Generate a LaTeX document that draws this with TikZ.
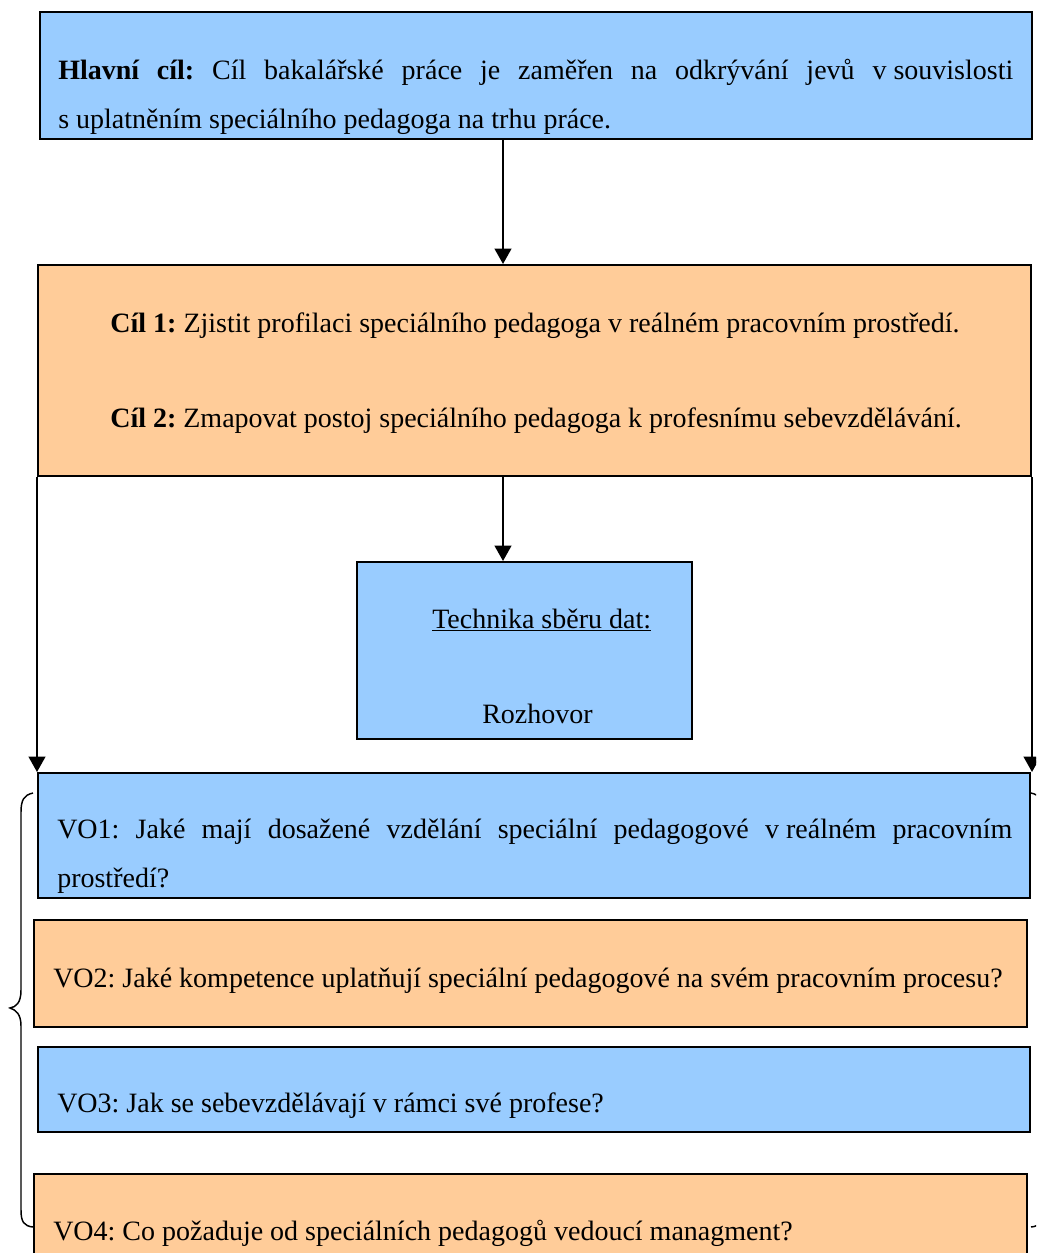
\documentclass[tikz,border=0pt]{standalone}
\usepackage{fontspec}
\setmainfont{Liberation Serif}
\usetikzlibrary{arrows.meta,fit}
\definecolor{boxblue}{RGB}{153,204,255}
\definecolor{boxorange}{RGB}{255,204,153}
\begin{document}
\frenchspacing
\begin{tikzpicture}[x=0.75pt,y=-0.75pt,
  bluebox/.style={draw=black, line width=1.5pt, fill=boxblue, inner sep=0pt, fit={#1}},
  orangebox/.style={draw=black, line width=1.5pt, fill=boxorange, inner sep=0pt, fit={#1}},
  txt/.style={inner sep=0pt, font=\fontsize{21}{25}\selectfont\frenchspacing},
  arr/.style={line width=1.5pt, -{Triangle[width=12.5pt,length=11.5pt]}},
  brace/.style={line width=1.1pt}
]
\useasboundingbox (0,0) rectangle (1036,1253);
\clip (0,0) rectangle (1036,1253);

% boxes
\node[bluebox={(40,12) (1032,139)}] (top) {};
\node[orangebox={(38,265) (1031,476)}] (goals) {};
\node[bluebox={(357,562) (692,739)}] (tech) {};
\node[bluebox={(38,773) (1030,898)}] (vo1) {};
\node[orangebox={(34,920) (1027,1027)}] (vo2) {};
\node[bluebox={(38,1047) (1030,1132)}] (vo3) {};
\node[orangebox={(34,1174) (1027,1290)}] (vo4) {};

% texts
\node[txt, anchor=base west] (t1) at (58,79) {\makebox[716.25pt][s]{\textbf{Hlavní cíl:} Cíl bakalářské práce je zaměřen na odkrývání jevů \mbox{v souvislosti}}};
\node[txt, anchor=base west] (t2) at (58,128) {s uplatněním speciálního pedagoga na trhu práce.};

\node[txt, anchor=base] (g1) at (535,332) {\textbf{Cíl 1:} Zjistit profilaci speciálního pedagoga v reálném pracovním prostředí.};
\node[txt, anchor=base] (g2) at (536,427) {\textbf{Cíl 2:} Zmapovat postoj speciálního pedagoga k profesnímu sebevzdělávání.};

\node[txt, anchor=base west] (h1) at (432,628) {\underline{Technika sběru dat:}};
\node[txt, anchor=base west] (h2) at (482,723) {Rozhovor};

\node[txt, anchor=base west] (v1a) at (57,838) {\makebox[716.25pt][s]{VO1: Jaké mají dosažené vzdělání speciální pedagogové \mbox{v reálném} pracovním}};
\node[txt, anchor=base west] (v1b) at (57,887) {prostředí?};
\node[txt, anchor=base west] (v2) at (53,987) {VO2: Jaké kompetence uplatňují speciální pedagogové na svém pracovním procesu?};
\node[txt, anchor=base west] (v3) at (57,1112) {VO3: Jak se sebevzdělávají v rámci své profese?};
\node[txt, anchor=base west] (v4) at (53,1240) {VO4: Co požaduje od speciálních pedagogů vedoucí managment?};

% connectors
\coordinate (ax) at (503,0);
\draw[arr] (top.south -| ax) -- (goals.north -| ax);
\draw[arr] (goals.south -| ax) -- (tech.north -| ax);
\draw[arr] (goals.south west) -- (vo1.north west);
\draw[arr] (goals.south east) -- (vo1.north east -| goals.south east);

% braces
\draw[brace] (33,793) .. controls (24,795) and (21,800) .. (21,812) -- (21,990)
  .. controls (21,1003) and (16,1007) .. (10,1008)
  .. controls (16,1010) and (21,1014) .. (21,1026) -- (21,1210)
  .. controls (21,1222) and (24,1226) .. (33,1227);
\draw[brace] (1031,793) .. controls (1040,795) and (1043,800) .. (1043,812) -- (1043,990)
  .. controls (1043,1003) and (1048,1007) .. (1054,1008)
  .. controls (1048,1010) and (1043,1014) .. (1043,1026) -- (1043,1210)
  .. controls (1043,1222) and (1040,1226) .. (1031,1227);
\end{tikzpicture}
\end{document}
